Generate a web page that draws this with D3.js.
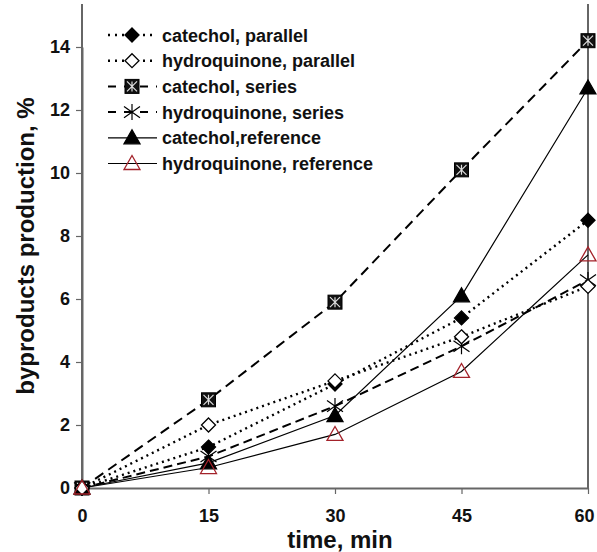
<!DOCTYPE html>
<html><head><meta charset="utf-8">
<script src="https://cdn.jsdelivr.net/npm/d3@7"></script>
<style>body{margin:0;background:#fff}svg{display:block}text{font-family:"Liberation Sans",Arial,sans-serif;font-weight:bold}</style>
</head><body><svg id="c" width="597" height="552"></svg>
<script>
const times = [0, 15, 30, 45, 60];
const xTicks = [0, 15, 30, 45, 60];
const yTicks = [0, 2, 4, 6, 8, 10, 12, 14];
const seriesNames = ["catechol, parallel", "hydroquinone, parallel", "catechol, series", "hydroquinone, series", "catechol,reference", "hydroquinone, reference"];
const catecholParallel = [0, 1.3, 3.3, 5.4, 8.5];
const hydroquinoneParallel = [0, 2.0, 3.4, 4.8, 6.4];
const catecholSeries = [0, 2.8, 5.9, 10.1, 14.2];
const hydroquinoneSeries = [0, 1.0, 2.6, 4.5, 6.6];
const catecholReference = [0, 0.8, 2.3, 6.1, 12.7];
const hydroquinoneReference = [0, 0.65, 1.7, 3.7, 7.4];

const series = [
  {name: seriesNames[0], values: catecholParallel, dash: "2,4", marker: "diamondFilled"},
  {name: seriesNames[1], values: hydroquinoneParallel, dash: "2,4", marker: "diamondOpen"},
  {name: seriesNames[2], values: catecholSeries, dash: "10,6", marker: "boxX"},
  {name: seriesNames[3], values: hydroquinoneSeries, dash: "9,5", marker: "asterisk"},
  {name: seriesNames[4], values: catecholReference, dash: null, marker: "triFilled"},
  {name: seriesNames[5], values: hydroquinoneReference, dash: null, marker: "triOpen"}
];

const svg = d3.select("#c");
const x = d3.scaleLinear().domain([0, 60]).range([82, 588]);
const y = d3.scaleLinear().domain([0, 14]).range([488, 47]);
const axisColor = "#666";

// frame
svg.append("line").attr("x1", 82).attr("x2", 82).attr("y1", 4).attr("y2", 488).attr("stroke", axisColor).attr("stroke-width", 2);
svg.append("line").attr("x1", 588).attr("x2", 588).attr("y1", 4).attr("y2", 488).attr("stroke", axisColor).attr("stroke-width", 2);

const xa = svg.append("g").attr("transform", "translate(0,488)")
  .call(d3.axisBottom(x).tickValues(xTicks).tickSize(6).tickPadding(15).tickSizeOuter(0));
const ya = svg.append("g").attr("transform", "translate(82,0)")
  .call(d3.axisLeft(y).tickValues(yTicks).tickSize(6).tickPadding(6).tickSizeOuter(0));
[xa, ya].forEach(a => {
  a.select(".domain").attr("stroke", axisColor).attr("stroke-width", 2);
  a.selectAll(".tick line").attr("stroke", axisColor).attr("stroke-width", 1.2);
  a.selectAll(".tick text").attr("font-size", 18).attr("font-weight", "bold").attr("fill", "#111")
    .attr("font-family", "Liberation Sans, Arial, sans-serif");
});
// keep the last x tick label inside the picture
xa.selectAll(".tick text").filter(d => d === 60).attr("text-anchor", "end").attr("dx", 6);

svg.append("text").attr("x", 340).attr("y", 548).attr("text-anchor", "middle").attr("font-size", 24).attr("fill", "#111").text("time, min");
svg.append("text").attr("transform", "translate(34,246) rotate(-90)").attr("text-anchor", "middle").attr("font-size", 24).attr("fill", "#111").text("byproducts production, %");

function drawMarker(g, type, cx, cy) {
  const s = 7;
  if (type === "diamondFilled" || type === "diamondOpen") {
    g.append("path").attr("d", `M${cx},${cy - s}L${cx + s},${cy}L${cx},${cy + s}L${cx - s},${cy}Z`)
      .attr("fill", type === "diamondFilled" ? "#000" : "#fff").attr("stroke", "#000").attr("stroke-width", 1.3);
  } else if (type === "boxX") {
    g.append("rect").attr("x", cx - s).attr("y", cy - s).attr("width", 2 * s).attr("height", 2 * s).attr("fill", "#111").attr("stroke", "#000");
    g.append("path").attr("d", `M${cx - s + 2},${cy - s + 2}L${cx + s - 2},${cy + s - 2}M${cx + s - 2},${cy - s + 2}L${cx - s + 2},${cy + s - 2}M${cx},${cy - s + 2}L${cx},${cy + s - 2}`)
      .attr("stroke", "#ddd").attr("stroke-width", 1.2);
  } else if (type === "asterisk") {
    const r = 8;
    g.append("path").attr("d", `M${cx - r},${cy - r * 0.7}L${cx + r},${cy + r * 0.7}M${cx - r},${cy + r * 0.7}L${cx + r},${cy - r * 0.7}M${cx},${cy - r}L${cx},${cy + r}`)
      .attr("stroke", "#000").attr("stroke-width", 1.2);
  } else if (type === "triFilled" || type === "triOpen") {
    const t = 8;
    g.append("path").attr("d", `M${cx},${cy - t}L${cx + t},${cy + t * 0.75}L${cx - t},${cy + t * 0.75}Z`)
      .attr("fill", type === "triFilled" ? "#000" : "none").attr("stroke", type === "triFilled" ? "#000" : "#a3222a").attr("stroke-width", 1.3);
  }
}

const line = d3.line().x((d, i) => x(times[i])).y(d => y(d));
const plot = svg.append("g");
series.forEach(s => {
  plot.append("path").datum(s.values).attr("d", line).attr("fill", "none").attr("stroke", "#000")
    .attr("stroke-width", s.dash && s.dash.startsWith("2") ? 2.4 : (s.dash ? 2 : 1.2))
    .attr("stroke-dasharray", s.dash);
});
const order = [2, 3, 4, 0, 1, 5];
order.forEach(k => {
  const s = series[k];
  const g = plot.append("g");
  s.values.forEach((v, i) => drawMarker(g, s.marker, x(times[i]), y(v)));
});

// legend
const lg = svg.append("g");
series.forEach((s, i) => {
  const yy = 35 + i * 25.7;
  lg.append("line").attr("x1", 108).attr("x2", 157).attr("y1", yy).attr("y2", yy).attr("stroke", "#000")
    .attr("stroke-width", s.dash && s.dash.startsWith("2") ? 2.4 : (s.dash ? 2 : 1.2))
    .attr("stroke-dasharray", s.dash ? (s.dash.startsWith("2") ? "2,5" : "8,8") : null);
  drawMarker(lg, s.marker, 132, yy);
  lg.append("text").attr("x", 162).attr("y", yy + 6.5).attr("font-size", 18).attr("fill", "#111").text(s.name);
});
</script></body></html>
